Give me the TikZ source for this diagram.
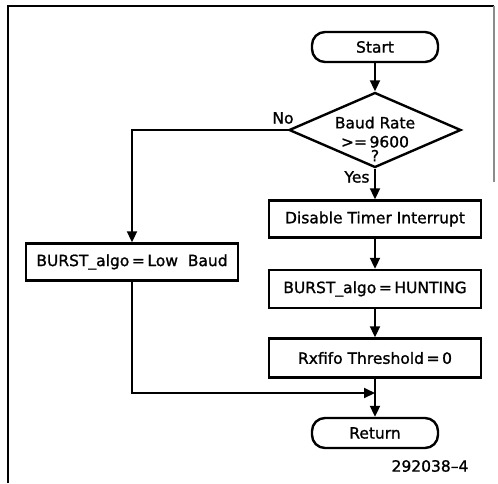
\documentclass[tikz,border=0pt]{standalone}
\usepackage{fontspec}
\setmainfont[FakeBold=1.2]{DejaVu Sans}
\usetikzlibrary{arrows.meta,shapes.geometric}
\tikzset{
  fFont/.style={font=\fontsize{15.5}{18}\selectfont},
  fBox/.style={draw,line width=2.4pt,fFont,inner sep=2pt,
        minimum width=212pt,minimum height=37pt},
  fTerm/.style={fBox,rounded corners=13pt,minimum width=126pt,minimum height=30pt},
  fDec/.style={draw,diamond,line width=2.4pt,inner sep=0pt,
        minimum width=172pt,minimum height=75pt},
  fLabel/.style={fFont,inner sep=0pt},
  fLine/.style={line width=2pt},
  fArrow/.style={fLine,-{Triangle[length=11pt,width=10pt]}},
  fFrame/.style={line width=1.2pt},
}
\begin{document}
\begin{tikzpicture}[x=1pt,y=-1pt]
\useasboundingbox (0,0) rectangle (498,483);
\draw[fFrame] (8,483) -- (8,6) -- (494,6);
\draw[fFrame,black!45] (494,6) -- (494,182);

\node[fTerm]  (start) at (375,47)  {Start};
\node[fDec]   (dec)   at (375,130) {};
\node[fLabel,align=center] (decTxt) at (375,139) {Baud Rate\\[1pt]>=\,9600\\[-4pt]?};
\node[fLabel] (no)    at (283,118) {No};
\node[fLabel] (yes)   at (357,177) {Yes};
\node[fBox]   (dis)   at (375,219) {Disable Timer Interrupt};
\node[fBox]   (low)   at (132,262) {BURST\_algo\,=\,Low\ \ Baud};
\node[fBox,minimum height=38pt] (hunt) at (375,289) {BURST\_algo\,=\,HUNTING};
\node[fBox,minimum height=39pt] (rx)   at (375,358) {Rxfifo Threshold\,=\,0};
\node[fTerm]  (ret)   at (375,433) {Return};
\node[fLabel] (fig)   at (430,466) {292038--4};
\coordinate (join) at (375,393);

\draw[fArrow] (start) -- (dec);
\draw[fArrow] (dec.west) -| (low.north);
\draw[fArrow] (dec.south) -- (dis.north);
\draw[fArrow] (dis) -- (hunt);
\draw[fArrow] (hunt) -- (rx);
\draw[fArrow] (rx) -- (ret);
\draw[fArrow] (low.south) |- (join);
\end{tikzpicture}
\end{document}
